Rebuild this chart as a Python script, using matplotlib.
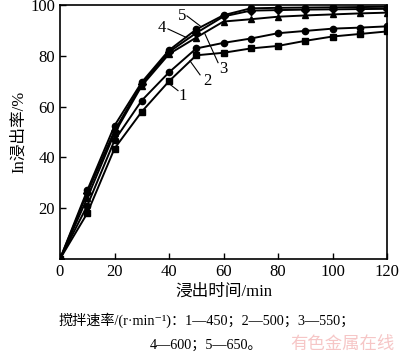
import numpy as np
import matplotlib.pyplot as plt

plt.rcParams['font.family'] = ['Liberation Serif', 'Noto Sans CJK SC', 'DejaVu Sans']

t = [0, 10, 20, 30, 40, 50, 60, 70, 80, 90, 100, 110, 120]
s1 = [0, 18, 43.5, 58, 70, 80.2, 81.2, 82.9, 83.9, 85.9, 87.6, 88.6, 89.6]
s2 = [0, 21, 46.7, 62.4, 73.5, 82.9, 85.1, 86.8, 88.9, 89.8, 90.7, 91.1, 91.6]
s3 = [0, 24, 49.5, 68.2, 80.7, 87.2, 93.5, 94.4, 95.4, 95.9, 96.3, 96.7, 97.0]
s4 = [0, 26, 50.5, 69.0, 81.5, 89.0, 95.5, 97.8, 98.0, 98.2, 98.3, 98.4, 98.5]
s5 = [0, 27, 52.5, 69.6, 82.2, 90.4, 96.0, 98.7, 98.9, 99.0, 99.1, 99.2, 99.3]
series = [s1, s2, s3, s4, s5]
markers = ['s', 'o', '^', 'D', 'o']

fig = plt.figure(figsize=(4.0, 3.59), dpi=100)
ax = fig.add_axes([0.15, 0.2786, 0.8175, 0.7074])

for s, m in zip(series, markers):
    ax.plot(t, s, color='black', lw=1.4, marker=m, ms=4.5)

# curve labels with leader lines
labels = [('1', (45.1, 64.3), (43.3, 66.3), (39.6, 69.4)),
          ('2', (54.0, 70.2), (51.4, 72.5), (47.7, 78.0)),
          ('3', (59.8, 74.9), (58.0, 77.3), (53.2, 88.6)),
          ('4', (37.4, 91.0), (39.6, 90.6), (46.6, 87.1)),
          ('5', (44.8, 95.7), (46.6, 95.7), (51.4, 91.8))]
for txt, pos, a, b in labels:
    ax.plot([a[0], b[0]], [a[1], b[1]], color='black', lw=0.8)
    ax.text(pos[0], pos[1], txt, fontsize=12, ha='center', va='center')

ax.set_xlim(0, 120)
ax.set_ylim(0, 100)
ax.set_xticks([0, 20, 40, 60, 80, 100, 120])
ax.set_yticks([20, 40, 60, 80, 100])
ax.tick_params(direction='in', length=4, labelsize=12, width=1)
for sp in ax.spines.values():
    sp.set_linewidth(1.2)

ax.set_xlabel('浸出时间/min', fontsize=12, labelpad=3)
ax.set_ylabel('In浸出率/%', fontsize=12, labelpad=2)

fig.text(0.145, 0.108, '搅拌速率/(r·min⁻¹)：1—450；2—500；3—550；', fontsize=10.2, va='center')
fig.text(0.375, 0.038, '4—600；5—650。', fontsize=10.2, va='center')
fig.text(0.725, 0.038, '有色金属在线', fontsize=12.5, color='#f6c6c6', va='center')

fig.savefig('out.png', dpi=100)
